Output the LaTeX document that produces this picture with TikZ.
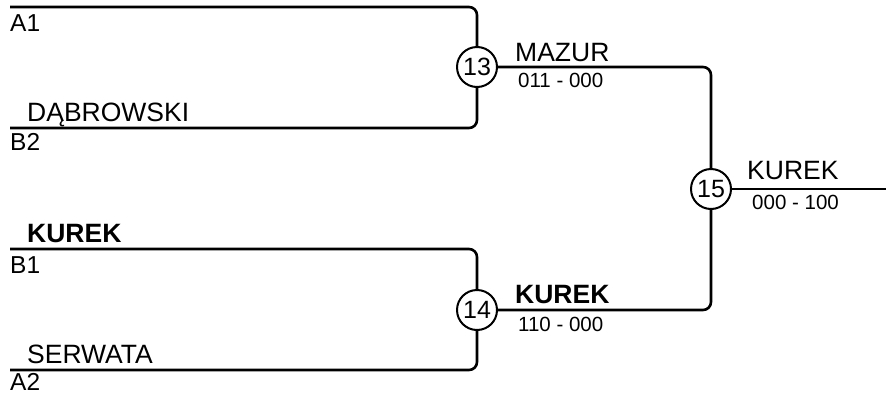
\documentclass[tikz,border=0pt]{standalone}
\usepackage{fontspec}
\setmainfont{Liberation Sans}
\usetikzlibrary{positioning}

\begin{document}
\begin{tikzpicture}[x=1pt, y=-1pt,
    wire/.style={line width=2.6pt, rounded corners=8pt},
    game/.style={circle, draw, line width=2pt, minimum size=40pt, inner sep=0pt, fill=white, font=\fontsize{25}{25}\selectfont},
    player/.style={anchor=base west, inner sep=0pt, font=\fontsize{26.5}{26.5}\selectfont},
    winner/.style={player, font=\fontsize{26.5}{26.5}\selectfont\bfseries},
    slot/.style={anchor=base west, inner sep=0pt, font=\fontsize{24.5}{24.5}\selectfont},
    score/.style={anchor=base west, inner sep=0pt, font=\fontsize{20.5}{20.5}\selectfont}]
    %%%%% START %%%%%
    \useasboundingbox (0,0) rectangle (886,394);

    % games
    \node[game] (m13) at (477, 67) {13};
    \node[game] (m14) at (477, 310) {14};
    \node[game] (m15) at (711, 189) {15};

    % first round
    \coordinate (a1) at (10, 7);
    \coordinate (b2) at (10, 128);
    \coordinate (b1) at (10, 249);
    \coordinate (a2) at (10, 370);
    \coordinate (out) at (886, 189);

    \draw[wire] (a1) -- (477, 7) -- (m13.north);
    \draw[wire] (b2) -- (477, 128) -- (m13.south);
    \draw[wire] (b1) -- (477, 249) -- (m14.north);
    \draw[wire] (a2) -- (477, 370) -- (m14.south);

    \node[slot] (la1) at (10, 31) {A1};
    \node[player] (pb2) at (27, 121) {DĄBROWSKI};
    \node[slot] (lb2) at (10, 150) {B2};
    \node[winner] (pb1) at (27, 242) {KUREK};
    \node[slot] (lb1) at (10, 273) {B1};
    \node[player] (pa2) at (27, 363) {SERWATA};
    \node[slot] (la2) at (10, 390) {A2};

    % second round
    \draw[wire] (m13.east) -- (711, 67) -- (m15.north);
    \draw[wire] (m14.east) -- (711, 310) -- (m15.south);
    \draw[wire] (m15.east) -- (out);

    \node[player] (w13) at (515, 61) {MAZUR};
    \node[score] (s13) at (518, 87) {011 - 000};
    \node[winner] (w14) at (515, 303) {KUREK};
    \node[score] (s14) at (518, 331) {110 - 000};
    \node[player] (w15) at (747, 179) {KUREK};
    \node[score] (s15) at (752, 209) {000 - 100};
    %%%%% END %%%%%
\end{tikzpicture}
\end{document}
